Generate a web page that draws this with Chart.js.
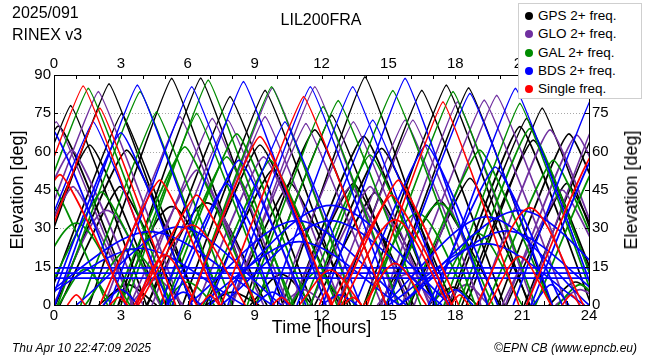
<!DOCTYPE html>
<html>
<head>
<meta charset="utf-8">
<script src="https://cdn.jsdelivr.net/npm/chart.js@4.4.1/dist/chart.umd.min.js"></script>
<style>
  body { margin: 0; background: #fff; font-family: "Liberation Sans", Arial, sans-serif; }
  #wrap { position: relative; width: 650px; height: 360px; overflow: hidden; }
  #chart { position: absolute; left: 0; top: 0; }
  .txt { position: absolute; color: #000; white-space: nowrap; line-height: 1; }
  #legend { position: absolute; left: 518px; top: 3px; width: 124px; height: 96px; background: #fff;
            border: 1px solid #cfcfcf; box-sizing: border-box; }
  .row { position: absolute; left: 0; font-size: 13.5px; line-height: 1; white-space: nowrap; }
  .dot { position: absolute; left: 6px; width: 8px; height: 8px; border-radius: 50%; }
  .lab { position: absolute; left: 19px; top: -7px; white-space: nowrap; }
</style>
</head>
<body>
<div id="wrap">
  <canvas id="chart" width="650" height="360"></canvas>
  <div class="txt" style="left:12px;top:5px;font-size:16px;">2025/091</div>
  <div class="txt" style="left:12px;top:27px;font-size:16px;">RINEX v3</div>
  <div class="txt" style="left:321px;top:12px;font-size:16px;transform:translateX(-50%);">LIL200FRA</div>
  <div class="txt" style="left:631px;top:190px;font-size:18px;transform:translate(-50%,-50%) rotate(-90deg);">Elevation [deg]</div>
  <div class="txt" style="left:12px;top:342px;font-size:12px;font-style:italic;">Thu Apr 10 22:47:09 2025</div>
  <div class="txt" style="right:13px;top:342px;font-size:12px;font-style:italic;">©EPN CB (www.epncb.eu)</div>
  <div id="legend"></div>
</div>
<script>
// time axis (hours) and elevation axis (deg) tick labels
const hourTicks = [0, 3, 6, 9, 12, 15, 18, 21, 24];
const elevTicks = [0, 15, 30, 45, 60, 75, 90];

// each pass: [rise hour, culmination hour, max elevation, set hour]
const gpsArcs = [
  [-2.65, 0.75, 78, 4.15], [-1.23, 2.47, 86.5, 6.17], [-3.2, 0.2, 70, 3.6], [-1.6, 1.6, 62.6, 4.8],
  [0.06, 3.26, 60.6, 6.46], [-0.36, 3.04, 75, 6.44], [0.26, 2.96, 46.3, 5.66], [1.58, 5.28, 88.7, 8.98],
  [2.88, 6.58, 88.8, 10.28], [2.88, 5.28, 38.5, 7.68], [4.15, 6.85, 40, 9.55], [4.2, 7.9, 81.5, 11.6],
  [5.77, 9.47, 84, 13.17], [6.04, 9.24, 62.6, 12.44], [6.8, 9.8, 52.8, 12.8], [7.9, 10.6, 47.7, 13.3],
  [8.5, 11.7, 68.5, 14.9], [9.06, 12.46, 74.3, 15.86], [10.25, 13.95, 89.3, 17.65], [10.7, 13.9, 66, 17.1],
  [10.73, 13.43, 47.6, 16.13], [11.7, 14.4, 44, 17.1], [11.5, 14.7, 61.3, 17.9], [12.8, 16.5, 84, 20.2],
  [13.9, 17.6, 86, 21.3], [14.6, 17.3, 41, 20.0], [14.9, 18.6, 85, 22.3], [15.96, 18.66, 49.6, 21.36],
  [17.7, 20.9, 69.8, 24.1], [17.8, 21.2, 73, 24.6], [18.3, 21.5, 64.5, 24.7], [18.5, 21.9, 77, 25.3],
  [19.9, 23.1, 67, 26.3], [20.3, 23.0, 47.6, 25.7], [21.1, 24.5, 72, 27.9],
  [2.0, 3.3, 8, 4.6], [6.8, 8.0, 5, 9.2], [8.8, 10.2, 12, 11.6], [22.2, 23.4, 9, 24.6], [16.8, 17.9, 7, 19.0]
];
const gloArcs = [
  [-3.3, 0.1, 71.7, 3.5], [-1.85, 0.85, 46.3, 3.55], [-2.4, 0.8, 60.6, 4.0], [-1.71, 1.99, 83.5, 5.69],
  [-0.04, 2.36, 37, 4.76], [2.25, 5.65, 73.7, 9.05], [3.4, 6.4, 52.8, 9.4], [3.7, 7.1, 73, 10.5],
  [4.4, 7.8, 72.4, 11.2], [6.07, 9.47, 73.7, 12.87], [6.1, 9.8, 85, 13.5], [6.4, 9.4, 58, 12.4],
  [7.9, 11.3, 71, 14.7], [8.0, 11.7, 85.4, 15.4], [10.03, 13.43, 71.7, 16.83], [10.6, 13.3, 46.3, 16.0],
  [11.48, 14.18, 46.3, 16.88], [12.35, 15.75, 72.4, 19.15], [12.7, 16.1, 72.4, 19.5], [14.7, 18.1, 79.5, 21.5],
  [15.6, 19.3, 80.2, 23.0], [16.16, 19.86, 82, 23.56], [19.05, 22.25, 68.5, 25.45], [20.25, 23.45, 66.5, 26.65],
  [20.1, 22.8, 45, 25.5], [21.2, 24.6, 78, 28.0],
  [3.4, 4.6, 10, 5.8], [10.2, 11.2, 6, 12.2], [14.5, 15.8, 12, 17.1], [22.5, 23.6, 6, 24.7], [17.5, 18.5, 8, 19.5]
];
const galArcs = [
  [-3.0, -0.3, 50, 2.4], [-2.16, 1.54, 84.8, 5.24], [-1.4, 1.0, 32, 3.4], [-0.56, 2.14, 44.3, 4.84],
  [1.4, 3.4, 22, 5.4], [0.16, 3.86, 83.5, 7.56], [1.2, 4.6, 75.6, 8.0], [2.67, 5.87, 61.9, 9.07],
  [3.0, 6.4, 75, 9.8], [3.22, 6.92, 88, 10.62], [4.75, 7.75, 58, 10.75], [5.0, 8.2, 67, 11.4],
  [6.06, 9.76, 85.4, 13.46], [6.7, 9.7, 56.7, 12.7], [8.67, 12.07, 77.6, 15.47], [9.05, 12.75, 80, 16.45],
  [11.18, 14.18, 58.7, 17.18], [11.5, 15.2, 83.9, 18.9], [13.9, 16.3, 35.9, 18.7], [14.9, 17.3, 39.8, 19.7],
  [14.2, 17.9, 83.5, 21.6], [15.9, 19.1, 60.6, 22.3], [17.0, 19.0, 28, 21.0], [17.5, 20.9, 78.9, 24.3],
  [18.15, 21.35, 69, 24.55], [19.4, 22.4, 56.7, 25.4], [21.6, 24.8, 62, 28.0],
  [0.2, 1.4, 14, 2.6], [4.8, 6.0, 9, 7.2], [10.6, 11.8, 13, 13.0], [22.6, 23.6, 8, 24.6]
];
const bdsArcs = [
  [-3.6, -0.2, 70, 3.2], [-1.64, 1.76, 71.7, 5.16], [-0.2, 3.0, 67.4, 6.2], [0.04, 3.74, 86, 7.44],
  [2.48, 6.18, 85.4, 9.88], [5.05, 7.75, 47.6, 10.45], [4.8, 8.5, 87.4, 12.2], [5.3, 8.3, 56.7, 11.3],
  [6.96, 10.36, 71.7, 13.76], [7.8, 11.5, 85.4, 15.2], [9.7, 13.4, 85.4, 17.1], [10.9, 14.3, 72.4, 17.7],
  [12.05, 15.75, 88.7, 19.45], [13.5, 16.7, 62.6, 19.9], [14.96, 18.66, 82.8, 22.36], [16.8, 19.8, 54, 22.8],
  [17.0, 20.7, 84.8, 24.4], [20.6, 24.3, 84, 28.0], [21.4, 24.6, 64, 27.8],
  [-1.0, 4.3, 28.7, 9.8], [-1.0, 3.86, 22.2, 8.5], [1.0, 5.6, 30.6, 10.2], [6.0, 10.9, 33, 15.8],
  [6.5, 11.0, 24.8, 15.5], [7.0, 12.4, 39, 17.8], [7.5, 12.4, 33, 17.4], [14.8, 19.4, 34.5, 24.0],
  [15.0, 19.4, 24, 23.8], [15.5, 20.3, 29, 25.0], [15.5, 20.9, 37, 26.0],
  [2.2, 3.0, 6, 3.8], [5.0, 5.8, 5, 6.6], [9.0, 9.8, 5, 10.6], [12.0, 12.8, 4, 13.6], [17.2, 18.0, 6, 18.8], [21.5, 22.3, 8, 23.1]
];
// geostationary BDS, constant elevation all day
const bdsGeo = [14.5, 12.5, 10.5];
const singleArcs = [
  [-2.73, 0.27, 51, 3.27], [-2.39, 1.31, 85.7, 5.01], [-1.34, 2.06, 77, 5.46], [2.05, 4.75, 48.9, 7.45],
  [3.6, 4.98, 19.6, 6.4], [3.78, 6.18, 31.3, 8.58], [3.7, 6.4, 43, 9.1], [6.04, 9.24, 65.9, 12.44],
  [7.5, 11.2, 81.5, 14.9], [11.0, 12.4, 13.7, 13.8], [12.45, 15.15, 43, 17.85], [12.9, 15.3, 33.3, 17.7],
  [12.75, 15.45, 48.9, 18.15], [13.9, 15.3, 16.3, 16.7], [14.05, 17.45, 79.5, 20.85], [18.95, 21.35, 38, 23.75],
  [19.5, 20.9, 19, 22.3], [21.2, 24.4, 62, 27.6],
  [0.6, 1.0, 4, 1.4], [2.5, 2.9, 3, 3.3], [6.6, 7.0, 4, 7.4], [9.8, 10.2, 3, 10.6],
  [11.9, 12.2, 5, 12.5], [13.0, 13.4, 3, 13.8], [17.8, 18.2, 4, 18.6], [22.8, 23.2, 4, 23.6]
];

const groups = [
  { label: 'GPS 2+ freq.', color: '#000000', arcs: gpsArcs, order: 5 },
  { label: 'GLO 2+ freq.', color: '#7030a0', arcs: gloArcs, order: 4 },
  { label: 'GAL 2+ freq.', color: '#008c00', arcs: galArcs, order: 3 },
  { label: 'BDS 2+ freq.', color: '#0000ff', arcs: bdsArcs, order: 2 },
  { label: 'Single freq.', color: '#ff0000', arcs: singleArcs, order: 1 }
];

const datasets = [];
groups.forEach(g => {
  g.arcs.forEach(a => {
    datasets.push({
      data: [{ x: a[0], y: 0 }, { x: a[1], y: a[2] }, { x: a[3], y: 0 }],
      borderColor: g.color,
      borderWidth: 1.7,
      pointRadius: 0,
      // high passes are nearly pointed, low ones rounder
      tension: a[2] > 70 ? 0.07 : (a[2] > 40 ? 0.13 : 0.3),
      order: g.order
    });
  });
});
bdsGeo.forEach(e => {
  datasets.push({
    data: [{ x: 0, y: e }, { x: 24, y: e }],
    borderColor: '#0000ff', borderWidth: 1.7, pointRadius: 0, tension: 0, order: 2
  });
});

// html legend box
const legend = document.getElementById('legend');
groups.forEach((g, i) => {
  const row = document.createElement('div');
  row.className = 'row';
  row.style.top = (12 + i * 18.3) + 'px';
  row.innerHTML = '<span class="dot" style="background:' + g.color + ';top:-4px"></span><span class="lab">' + g.label + '</span>';
  legend.appendChild(row);
});

const tickFont = { family: '"Liberation Sans", Arial, sans-serif', size: 15 };
const titleFont = { family: '"Liberation Sans", Arial, sans-serif', size: 18 };

const framePlugin = {
  id: 'frame',
  beforeDatasetsDraw(chart) {
    const { ctx, chartArea: a, scales: { y } } = chart;
    ctx.save();
    ctx.strokeStyle = '#a8a8a8';
    ctx.lineWidth = 1;
    ctx.setLineDash([1, 2]);
    elevTicks.forEach(v => {
      if (v <= 0 || v >= 90) return;
      const py = Math.round(y.getPixelForValue(v)) + 0.5;
      ctx.beginPath();
      ctx.moveTo(a.left, py);
      ctx.lineTo(a.right, py);
      ctx.stroke();
    });
    ctx.restore();
  },
  afterDatasetsDraw(chart) {
    const { ctx, chartArea: a, scales: { x, y } } = chart;
    ctx.save();
    ctx.strokeStyle = '#000';
    ctx.lineWidth = 1;
    ctx.beginPath();
    for (let h = 1; h < 24; h++) {
      const px = Math.round(x.getPixelForValue(h)) + 0.5;
      ctx.moveTo(px, a.top); ctx.lineTo(px, a.top + 4);
      ctx.moveTo(px, a.bottom); ctx.lineTo(px, a.bottom - 4);
    }
    elevTicks.forEach(v => {
      const py = Math.round(y.getPixelForValue(v)) + 0.5;
      ctx.moveTo(a.left, py); ctx.lineTo(a.left + 4, py);
      ctx.moveTo(a.right, py); ctx.lineTo(a.right - 4, py);
    });
    ctx.stroke();
    ctx.strokeRect(Math.round(a.left) + 0.5, Math.round(a.top) + 0.5,
      Math.round(a.right - a.left), Math.round(a.bottom - a.top));
    ctx.restore();
  }
};

const xAxis = (pos, h, title) => ({
  type: 'linear', position: pos, min: 0, max: 24,
  afterBuildTicks: s => { s.ticks = hourTicks.map(v => ({ value: v })); },
  afterFit: s => { s.height = h; },
  ticks: { font: tickFont, color: '#000', padding: 2, maxRotation: 0, autoSkip: false },
  grid: { display: false, drawTicks: false },
  border: { display: false },
  title: title ? { display: true, text: title, font: titleFont, color: '#000', padding: { top: 0, bottom: 21 } } : { display: false }
});
const yAxis = (pos, w, title) => ({
  type: 'linear', position: pos, min: 0, max: 90,
  afterBuildTicks: s => { s.ticks = elevTicks.map(v => ({ value: v })); },
  afterFit: s => { s.width = w; },
  ticks: { font: tickFont, color: '#000', padding: 3 },
  grid: { display: false, drawTicks: false },
  border: { display: false },
  title: title ? { display: true, text: title, font: titleFont, color: '#000', padding: { top: 7, bottom: 0 } } : { display: false }
});

new Chart(document.getElementById('chart'), {
  type: 'line',
  data: { datasets: datasets },
  options: {
    responsive: false,
    animation: false,
    events: [],
    layout: { padding: 0 },
    plugins: { legend: { display: false }, tooltip: { enabled: false } },
    scales: {
      x: xAxis('bottom', 55, 'Time [hours]'),
      x2: xAxis('top', 75, null),
      y: yAxis('left', 54, 'Elevation [deg]'),
      y2: yAxis('right', 61, null)
    }
  },
  plugins: [framePlugin]
});
</script>
</body>
</html>
